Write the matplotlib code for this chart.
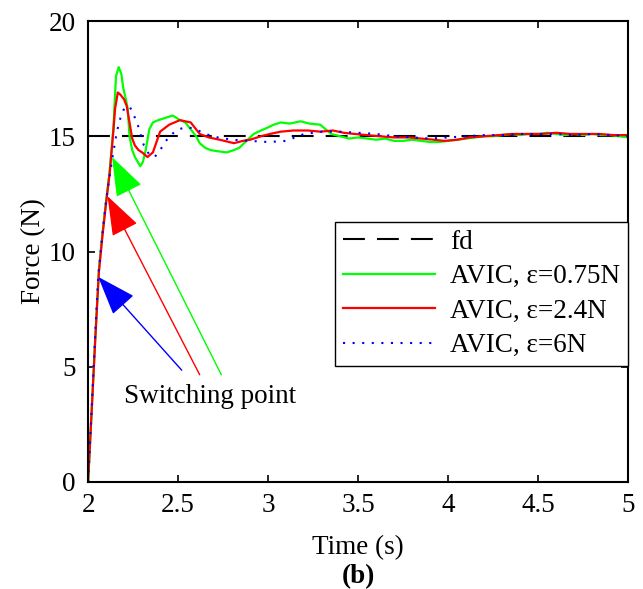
import numpy as np
import matplotlib
matplotlib.use('Agg')
import matplotlib.pyplot as plt

plt.rcParams['font.family'] = ['Liberation Serif', 'DejaVu Serif']

# desired force
fd_t = [2.0, 5.0]
fd_f = [15.0, 15.0]

# AVIC, eps = 0.75 N
t_green = [2.00, 2.02, 2.04, 2.06, 2.08, 2.10, 2.12, 2.14, 2.155, 2.17, 2.185, 2.195, 2.21, 2.22,
           2.23, 2.245, 2.26, 2.275, 2.29, 2.305, 2.32, 2.34, 2.36, 2.39, 2.43, 2.47, 2.51, 2.54,
           2.57, 2.60, 2.62, 2.65, 2.68, 2.72, 2.77, 2.81, 2.84, 2.88, 2.92, 2.96, 2.99, 3.03,
           3.07, 3.12, 3.18, 3.23, 3.29, 3.32, 3.35, 3.40, 3.45, 3.50, 3.55, 3.60, 3.65, 3.70,
           3.75, 3.80, 3.85, 3.90, 3.95, 4.00, 4.05, 4.10, 4.15, 4.20, 4.25, 4.30, 4.35, 4.40,
           4.45, 4.50, 4.55, 4.60, 4.65, 4.70, 4.75, 4.80, 4.85, 4.90, 4.95, 5.00]
f_green = [0, 3.1, 6.3, 9.2, 10.8, 12.2, 13.5, 15.3, 17.6, 18.0, 17.7, 17.1, 16.6, 16.2,
           15.0, 14.4, 14.1, 13.9, 13.7, 13.9, 14.4, 15.3, 15.6, 15.7, 15.8, 15.9, 15.7, 15.6,
           15.3, 15.0, 14.7, 14.5, 14.4, 14.35, 14.3, 14.4, 14.5, 14.8, 15.1, 15.25, 15.35, 15.5,
           15.6, 15.55, 15.65, 15.55, 15.5, 15.3, 15.1, 15.0, 14.9, 14.95, 14.9, 14.85, 14.9, 14.8,
           14.8, 14.85, 14.8, 14.75, 14.75, 14.8, 14.85, 14.9, 14.95, 15.0, 15.0, 15.05, 15.1, 15.05,
           15.1, 15.1, 15.15, 15.1, 15.05, 15.1, 15.05, 15.1, 15.05, 15.05, 15.0, 14.95]

# AVIC, eps = 2.4 N
t_red = [2.00, 2.02, 2.04, 2.06, 2.08, 2.10, 2.12, 2.14, 2.15, 2.165, 2.18, 2.20, 2.215, 2.23,
         2.245, 2.26, 2.28, 2.30, 2.33, 2.36, 2.40, 2.45, 2.51, 2.57, 2.62, 2.67, 2.73, 2.81,
         2.86, 2.90, 2.96, 3.01, 3.07, 3.14, 3.22, 3.29, 3.36, 3.42, 3.48, 3.55, 3.62, 3.70,
         3.78, 3.85, 3.92, 3.98, 4.05, 4.12, 4.20, 4.28, 4.36, 4.44, 4.52, 4.60, 4.68, 4.76,
         4.84, 4.92, 5.00]
f_red = [0, 3.1, 6.2, 9.1, 10.7, 12.1, 13.4, 15.2, 16.2, 16.9, 16.8, 16.6, 16.3, 15.6,
         14.9, 14.6, 14.4, 14.3, 14.1, 14.3, 15.2, 15.5, 15.7, 15.6, 15.1, 14.95, 14.85, 14.7,
         14.8, 14.85, 15.0, 15.1, 15.2, 15.25, 15.25, 15.2, 15.25, 15.15, 15.1, 15.05, 15.0, 14.95,
         14.95, 14.9, 14.85, 14.8, 14.85, 14.95, 15.0, 15.05, 15.1, 15.1, 15.1, 15.15, 15.1, 15.1,
         15.1, 15.05, 15.05]

# AVIC, eps = 6 N
t_blue = [2.00, 2.02, 2.04, 2.056, 2.08, 2.10, 2.12, 2.14, 2.16, 2.18, 2.20, 2.23, 2.25, 2.28,
          2.31, 2.34, 2.37, 2.40, 2.45, 2.50, 2.55, 2.60, 2.65, 2.72, 2.80, 2.90, 3.00, 3.10,
          3.20, 3.30, 3.40, 3.50, 3.60, 3.70, 3.80, 3.90, 4.00, 4.10, 4.20, 4.30, 4.40, 4.50,
          4.60, 4.70, 4.80, 4.90, 5.00]
f_blue = [0, 3.2, 6.5, 8.9, 10.8, 12.2, 13.3, 14.3, 15.2, 15.8, 16.2, 16.3, 16.0, 15.4,
          14.6, 14.2, 14.1, 14.4, 15.0, 15.3, 15.4, 15.3, 15.1, 14.95, 14.85, 14.8, 14.75, 14.8,
          15.1, 15.2, 15.2, 15.15, 15.1, 15.0, 14.95, 14.9, 14.95, 15.0, 15.05, 15.05, 15.1, 15.1,
          15.1, 15.05, 15.1, 15.05, 15.0]

# switching point arrows: (tail, tip)
arrow_blue = [(2.52, 4.85), (2.056, 8.9)]
arrow_red = [(2.62, 4.65), (2.108, 12.4)]
arrow_green = [(2.74, 4.65), (2.133, 14.1)]

fs = 19.5

fig = plt.figure(figsize=(6.43, 5.89), dpi=100)
ax = fig.add_axes([0.137, 0.1817, 0.840, 0.7826])

ax.plot(fd_t, fd_f, color='black', lw=1.5, dashes=(10.5, 5.8), label='fd')
ax.plot(t_green, f_green, color='#00ff00', lw=1.6, label='AVIC, ε=0.75N')
ax.plot(t_red, f_red, color='#ff0000', lw=1.6, label='AVIC, ε=2.4N')
ax.plot(t_blue, f_blue, color='#0000ff', lw=1.5, dashes=(1, 3.6), label='AVIC, ε=6N')

for (tail, tip), c in zip([arrow_blue, arrow_red, arrow_green], ['#0000ff', '#ff0000', '#00ff00']):
    ax.annotate('', xy=tip, xytext=tail,
                arrowprops=dict(arrowstyle='-|>,head_length=2.5,head_width=0.9', color=c,
                                lw=1.0, mutation_scale=10, shrinkA=0, shrinkB=0))

ax.text(2.68, 3.7, 'Switching point', fontsize=fs, ha='center', va='center')

ax.set_xlim(2, 5)
ax.set_ylim(0, 20)
ax.set_xticks(np.arange(2, 5.01, 0.5))
ax.set_xticklabels(['2', '2.5', '3', '3.5', '4', '4.5', '5'])
ax.set_yticks([0, 5, 10, 15, 20])
ax.tick_params(direction='in', length=5, width=1.2, labelsize=fs, top=True, right=True)
ax.tick_params(axis='x', pad=8)
ax.tick_params(axis='y', pad=9)
for s in ax.spines.values():
    s.set_linewidth(1.5)

ax.set_xlabel('Time (s)', fontsize=fs, labelpad=12)
ax.set_ylabel('Force (N)', fontsize=fs, labelpad=2)

leg = ax.legend(loc='upper right', bbox_to_anchor=(1.0, 0.565), borderaxespad=0,
                fontsize=fs, handlelength=3.4, labelspacing=0.35, fancybox=False,
                framealpha=1, edgecolor='black', borderpad=0.3, handletextpad=0.55)
leg.get_frame().set_linewidth(1.0)

fig.text(0.5 * (0.137 + 0.977), 1 - 577 / 589, '(b)', fontsize=fs, fontweight='bold',
         ha='center', va='center')

fig.savefig('out.png', dpi=100)
